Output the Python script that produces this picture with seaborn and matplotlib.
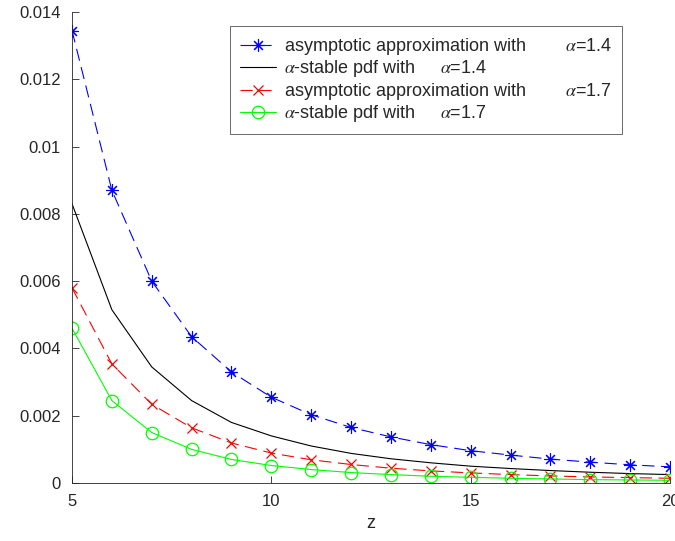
import pandas as pd
import matplotlib
matplotlib.use("Agg")
import matplotlib.pyplot as plt
import matplotlib.ticker as mticker
import seaborn as sns

# values
z = list(range(5, 21))
asym_14 = [0.01345, 0.0087, 0.0060, 0.00435, 0.0033, 0.00255, 0.00203, 0.00165,
           0.00137, 0.00114, 0.00096, 0.00083, 0.00071, 0.00062, 0.00054, 0.00048]
pdf_14 = [0.0083, 0.00515, 0.00345, 0.00245, 0.0018, 0.0014, 0.0011, 0.00088,
          0.00072, 0.0006, 0.0005, 0.00043, 0.00037, 0.00032, 0.00028, 0.00025]
asym_17 = [0.0058, 0.00354, 0.00234, 0.00164, 0.00119, 0.00089, 0.00069, 0.00055,
           0.00044, 0.00036, 0.0003, 0.00025, 0.00021, 0.00018, 0.00016, 0.00014]
pdf_17 = [0.0046, 0.00245, 0.0015, 0.001, 0.0007, 0.00052, 0.0004, 0.00031,
          0.00025, 0.0002, 0.00017, 0.00014, 0.00012, 0.0001, 0.00009, 0.00008]

labels = [
    r"asymptotic approximation with        $\alpha$=1.4",
    r"$\alpha$-stable pdf with     $\alpha$=1.4",
    r"asymptotic approximation with        $\alpha$=1.7",
    r"$\alpha$-stable pdf with     $\alpha$=1.7",
]

df = pd.DataFrame({"z": z, "a14": asym_14, "p14": pdf_14, "a17": asym_17, "p17": pdf_17})

sns.set_style("white")
plt.rcParams["font.family"] = ["Liberation Sans", "DejaVu Sans"]
plt.rcParams["mathtext.fontset"] = "stix"

fig = plt.figure(figsize=(6.75, 5.41), dpi=100)
ax = fig.add_axes([72 / 675, 1 - 483 / 541, (670 - 72) / 675, (483 - 12) / 541])

sns.lineplot(data=df, x="z", y="a14", ax=ax, color="#0000ff", linewidth=0.8,
             linestyle=(0, (11, 6)), marker=(8, 2, 0), markersize=9,
             markeredgewidth=0.8, markeredgecolor="#0000ff", label=labels[0])
sns.lineplot(data=df, x="z", y="p14", ax=ax, color="black", linewidth=0.8,
             label=labels[1])
sns.lineplot(data=df, x="z", y="a17", ax=ax, color="#ff0000", linewidth=0.8,
             linestyle=(0, (11, 6)), marker="x", markersize=7,
             markeredgewidth=0.9, markeredgecolor="#ff0000", label=labels[2])
sns.lineplot(data=df, x="z", y="p17", ax=ax, color="#00ff00", linewidth=0.8,
             marker="o", markersize=9, markerfacecolor="none",
             markeredgewidth=0.9, markeredgecolor="#00ff00", label=labels[3])

ax.set_xlim(5, 20)
ax.set_ylim(0, 0.014)
ax.set_xticks([5, 10, 15, 20])
ax.set_yticks([0, 0.002, 0.004, 0.006, 0.008, 0.01, 0.012, 0.014])
ax.yaxis.set_major_formatter(mticker.FormatStrFormatter("%g"))
ax.tick_params(direction="in", length=5, width=0.6, labelsize=12, colors="#262626",
               left=True, bottom=True, pad=8)
ax.set_xlabel("z", fontsize=13, color="#262626")
ax.set_ylabel("")
for s in ["top", "right"]:
    ax.spines[s].set_visible(False)
for s in ["left", "bottom"]:
    ax.spines[s].set_color("#262626")
    ax.spines[s].set_linewidth(0.6)

leg = ax.legend(loc="upper left", bbox_to_anchor=((230 - 72) / 598, (483 - 26) / 471),
                fontsize=13, frameon=True, fancybox=False, borderpad=0.55,
                labelspacing=0.08, handlelength=2.0, handletextpad=0.45,
                borderaxespad=0)
leg.get_frame().set_edgecolor("#262626")
leg.get_frame().set_linewidth(0.6)

fig.savefig("out.png", dpi=100)
